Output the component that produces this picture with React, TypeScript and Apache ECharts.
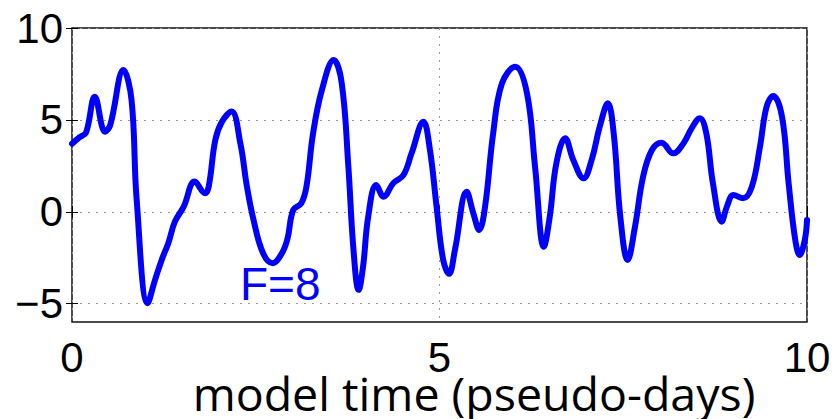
import React, { useEffect, useRef } from "react";
import * as echarts from "echarts";

const times = [
  0, 0.1, 0.19, 0.31, 0.45, 0.52, 0.7, 0.81, 0.88, 1.03, 1.13, 1.22, 1.31, 1.4, 1.52, 1.67, 1.81, 1.86,
  1.95, 2.04, 2.17, 2.29, 2.38, 2.47, 2.6, 2.73, 2.85, 2.93, 3.01, 3.12, 3.19, 3.28, 3.4, 3.56, 3.67,
  3.76, 3.83, 3.9, 3.96, 4.03, 4.14, 4.24, 4.37, 4.51, 4.62, 4.78, 4.87, 4.96, 5.05, 5.13, 5.21, 5.37,
  5.46, 5.54, 5.62, 5.73, 5.85, 6.03, 6.19, 6.3, 6.42, 6.5, 6.59, 6.71, 6.82, 6.96, 7.07, 7.18, 7.29,
  7.37, 7.46, 7.56, 7.66, 7.77, 7.89, 8.02, 8.18, 8.32, 8.43, 8.54, 8.63, 8.72, 8.84, 8.91, 9.0, 9.13,
  9.25, 9.36, 9.45, 9.54, 9.66, 9.75, 9.84, 9.9, 9.97, 10.0,
];
const values = [
  3.7, 4.05, 4.3, 6.26, 4.36, 4.72, 7.71, 6.08, 0.64, -4.98, -3.71, -2.62, -1.71, -0.54, 0.28, 1.64, 1.01, 1.37,
  3.91, 4.9, 5.45, 3.73, 1.37, -0.45, -2.26, -2.8, -2.3, -1.5, 0.1, 0.46, 1.37, 4.27, 6.63, 8.26, 6.99,
  2.45, -2.08, -4.25, -2.99, -0.27, 1.46, 0.82, 1.55, 2.0, 3.18, 4.9, 3.36, 0.28, -2.62, -3.38, -2.08, 1.09,
  -0.08, -0.99, 0.28, 4.27, 6.99, 7.89, 6.45, 2.45, -1.9, -0.27, 2.64, 4.0, 2.82, 1.82, 2.82, 4.63, 5.9,
  4.27, -0.27, -2.62, -0.81, 1.91, 3.36, 3.76, 3.18, 3.73, 4.54, 5.09, 4.27, 1.55, -0.54, 0.28, 0.91, 0.73,
  1.37, 3.54, 5.72, 6.3, 5.17, 1.55, -1.53, -2.35, -1.53, -0.45,
];
const xTicks = [0, 5, 10];
const yTicks = [-5, 0, 5, 10];
const xRange = [0, 10];
const yRange = [-6, 10];
const xLabel = "model time (pseudo-days)";
const annotation = "F=8";

const fmt = (v: number) => (v < 0 ? "\u2212" + Math.abs(v) : String(v));

export default function App() {
  const ref = useRef<HTMLDivElement>(null);
  useEffect(() => {
    if (!ref.current) return;
    const chart = echarts.init(ref.current, null, { renderer: "svg" });
    const tickFont = { fontFamily: "Liberation Sans", fontSize: 42, color: "#000" };
    const gridLine = { show: true, lineStyle: { color: "#999", type: [2, 6] as any, width: 1 } };
    chart.setOption({
      animation: false,
      backgroundColor: "#fff",
      grid: { left: 72, top: 28, right: 29, bottom: 97, show: true, borderColor: "#111", borderWidth: 1.5, backgroundColor: "transparent" },
      xAxis: [
        {
          type: "value", min: xRange[0], max: xRange[1], position: "bottom",
          axisLine: { show: false },
          axisTick: { show: true, inside: true, length: 6, customValues: xTicks, lineStyle: { color: "#000" } },
          axisLabel: { ...tickFont, margin: 14, customValues: xTicks, formatter: fmt },
          splitLine: gridLine,
        },
        {
          type: "value", min: xRange[0], max: xRange[1], position: "top",
          axisLine: { show: false },
          axisTick: { show: true, inside: true, length: 6, customValues: xTicks, lineStyle: { color: "#000" } },
          axisLabel: { show: false },
          splitLine: { show: false },
        },
      ],
      yAxis: [
        {
          type: "value", min: yRange[0], max: yRange[1], position: "left",
          axisLine: { show: false },
          axisTick: { show: true, inside: true, length: 6, customValues: yTicks, lineStyle: { color: "#000" } },
          axisLabel: { ...tickFont, margin: 9, customValues: yTicks, formatter: fmt },
          splitLine: gridLine,
        },
        {
          type: "value", min: yRange[0], max: yRange[1], position: "right",
          axisLine: { show: false },
          axisTick: { show: true, inside: true, length: 6, customValues: yTicks, lineStyle: { color: "#000" } },
          axisLabel: { show: false },
          splitLine: { show: false },
        },
      ],
      series: [
        {
          type: "line",
          xAxisIndex: 0,
          yAxisIndex: 0,
          data: times.map((t, i) => [t, values[i]]),
          smooth: 0.4,
          showSymbol: false,
          symbol: "none",
          lineStyle: { color: "#0000ff", width: 6, cap: "round", join: "round" },
          z: 5,
        },
      ],
      graphic: [
        {
          type: "text", left: 240, top: 261, z: 10,
          style: { text: annotation, fill: "#0000ff", font: "46px 'Liberation Sans'" },
        },
        {
          type: "text", x: 474, y: 393, z: 10,
          style: { text: xLabel, fill: "#000", font: "46.5px 'Open Sans'", align: "center", verticalAlign: "middle" },
        },
      ],
    });
    return () => chart.dispose();
  }, []);
  return <div ref={ref} style={{ width: 836, height: 419, position: "absolute", left: 0, top: 0 }} />;
}
